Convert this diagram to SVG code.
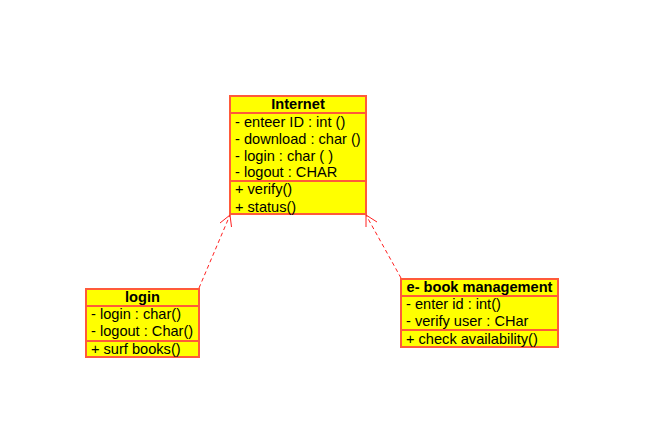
<svg xmlns="http://www.w3.org/2000/svg" width="665" height="438" viewBox="0 0 665 438">
<style>
.box{fill:#FFFF00;stroke:#FF5A3A;stroke-width:2}
.sep{stroke:#FF5A3A;stroke-width:2}
.t{font-family:"Liberation Sans",Arial,sans-serif;font-size:14.6px;fill:#000}
.h{font-family:"Liberation Sans",Arial,sans-serif;font-size:14.6px;font-weight:bold;fill:#000;text-anchor:middle}
.dep{stroke:#FF2020;stroke-width:1;fill:none;stroke-dasharray:4,3}
.head{stroke:#FF2020;stroke-width:1;fill:none}
</style>
<rect width="665" height="438" fill="#fff"/>
<g id="connectors">
<line class="dep" x1="199" y1="288" x2="230" y2="215"/>
<polyline class="head" points="220,223 230,215 231.5,227"/>
<line class="dep" x1="401" y1="278" x2="366" y2="215"/>
<polyline class="head" points="377,222 366,215 366,227"/>
</g>
<g id="internet">
<rect class="box" x="230" y="96" width="136" height="118"/>
<line class="sep" x1="230" y1="113" x2="366" y2="113"/>
<line class="sep" x1="230" y1="181" x2="366" y2="181"/>
<text class="h" x="298" y="109">Internet</text>
<text class="t" x="235" y="127">- enteer ID : int ()</text>
<text class="t" x="235" y="144">- download : char ()</text>
<text class="t" x="235" y="161">- login : char ( )</text>
<text class="t" x="235" y="177">- logout : CHAR</text>
<text class="t" x="235" y="194">+ verify()</text>
<text class="t" x="235" y="212">+ status()</text>
</g>
<g id="login">
<rect class="box" x="86" y="289" width="113" height="68"/>
<line class="sep" x1="86" y1="306" x2="199" y2="306"/>
<line class="sep" x1="86" y1="341" x2="199" y2="341"/>
<text class="h" x="142.5" y="302">login</text>
<text class="t" x="91" y="319">- login : char()</text>
<text class="t" x="91" y="336">- logout : Char()</text>
<text class="t" x="91" y="354">+ surf books()</text>
</g>
<g id="ebook">
<rect class="box" x="401" y="279" width="157" height="68"/>
<line class="sep" x1="401" y1="296" x2="558" y2="296"/>
<line class="sep" x1="401" y1="330" x2="558" y2="330"/>
<text class="h" x="479.5" y="292">e- book management</text>
<text class="t" x="406" y="309">- enter id : int()</text>
<text class="t" x="406" y="326">- verify user : CHar</text>
<text class="t" x="406" y="344">+ check availability()</text>
</g>
</svg>
